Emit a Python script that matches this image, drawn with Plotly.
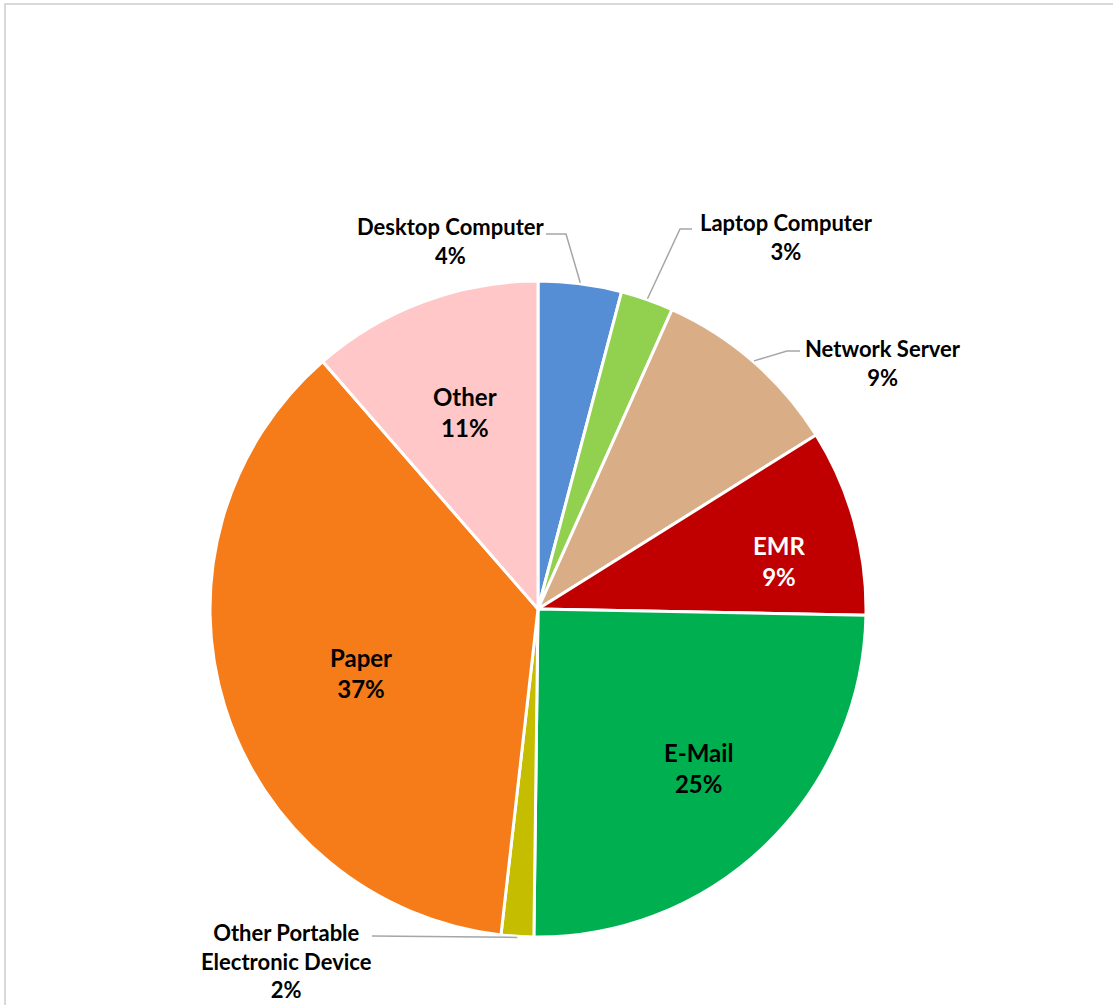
import math
import plotly.graph_objects as go

# ---- data ----
categories = ["Desktop Computer", "Laptop Computer", "Network Server", "EMR",
              "E-Mail", "Other Portable<br>Electronic Device", "Paper", "Other"]
values = [4.1, 2.6, 9.4, 9.2, 24.9, 1.6, 36.8, 11.4]
colors = ["#558ED5", "#92D050", "#D9AE87", "#C00000",
          "#00B050", "#C4BD00", "#F57C18", "#FFC7C7"]

# ---- layout constants ----
W, H = 1113, 1005
cx, cy, R = 538, 609, 328
FONT = "Lato"
total = sum(values)
pct = [f"{round(v / total * 100)}%" for v in values]

# mid angles (clockwise from 12 o'clock, degrees)
mids = []
acc = 0.0
for v in values:
    mids.append((acc + v / 2) / total * 360)
    acc += v

def pt(angle_deg, r):
    a = math.radians(angle_deg)
    return cx + r * math.sin(a), cy - r * math.cos(a)

fig = go.Figure()
fig.add_trace(go.Pie(
    labels=categories, values=values, sort=False, direction="clockwise", rotation=0,
    marker=dict(colors=colors, line=dict(color="white", width=3)),
    textinfo="none", hoverinfo="label+percent", showlegend=False,
    domain=dict(x=[(cx - R) / W, (cx + R) / W], y=[1 - (cy + R) / H, 1 - (cy - R) / H]),
))

# overlay pixel-space axes for annotations / leader lines
fig.update_layout(
    xaxis=dict(range=[0, W], visible=False, fixedrange=True),
    yaxis=dict(range=[H, 0], visible=False, fixedrange=True),
)

annotations = []
shapes = []

# inside labels: index -> (radial fraction, angle offset in degrees, font color)
inside = {7: (0.64, 0.2, "black"), 6: (0.574, -2.6, "black"),
          4: (0.688, -1.1, "black"), 3: (0.749, 4.2, "white")}
for i, (frac, dang, col) in inside.items():
    x, y = pt(mids[i] + dang, R * frac)
    annotations.append(dict(x=x, y=y, xref="x", yref="y", showarrow=False,
                            text=f"<b>{categories[i]}</b><br><b>{pct[i]}</b>",
                            font=dict(family=FONT, size=24, color=col)))

# outside labels: index -> (label center x, y, line y, line start x, elbow x)
outside = {
    0: (450, 241, 234, 546, 566),
    1: (786, 237, 229, 692, 680),
    2: (883, 363, 351, 800, 787),
    5: (286, 961, 936, 372, 372),
}
for i, (lx, ly, liney, sx, ex) in outside.items():
    parts = categories[i].split("<br>")
    txt = "<br>".join(f"<b>{p}</b>" for p in parts) + f"<br><b>{pct[i]}</b>"
    annotations.append(dict(x=lx, y=ly, xref="x", yref="y", showarrow=False,
                            text=txt, font=dict(family=FONT, size=22, color="black")))
    px, py = pt(mids[i], R + 1)
    shapes.append(dict(type="path", xref="x", yref="y",
                       path=f"M {sx},{liney} L {ex},{liney} L {px:.1f},{py:.1f}",
                       line=dict(color="#A6A6A6", width=1.5)))

# chart border
shapes.append(dict(type="path", xref="x", yref="y",
                   path=f"M 5,{H + 10} L 5,4 L {W + 10},4",
                   line=dict(color="#D9D9D9", width=2)))

fig.update_layout(
    width=W, height=H, margin=dict(l=0, r=0, t=0, b=0),
    paper_bgcolor="white", plot_bgcolor="rgba(0,0,0,0)",
    annotations=annotations, shapes=shapes,
    font=dict(family=FONT),
)

fig.write_html("out.html", config={"displayModeBar": False},
               post_script="document.body.style.margin='0';")
